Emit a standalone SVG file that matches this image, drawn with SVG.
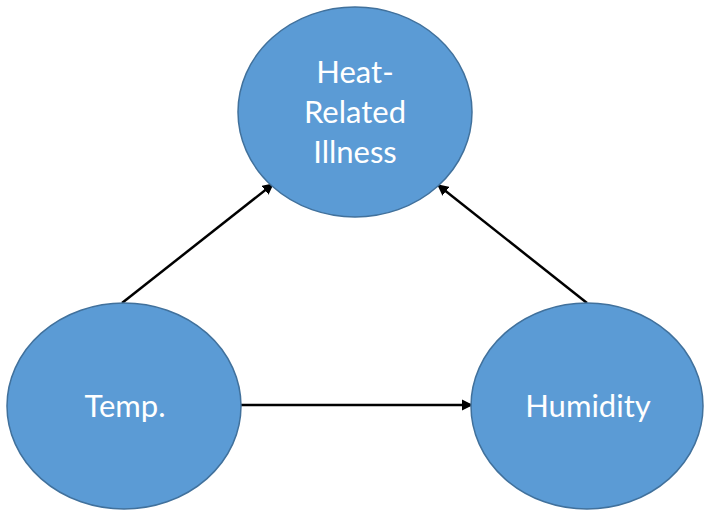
<svg xmlns="http://www.w3.org/2000/svg" width="709" height="522" viewBox="0 0 709 522">
<style>
.node{fill:#5B9BD5;stroke:#41719C;stroke-width:1.5}
.lbl{fill:#fff;font-family:Lato,"Open Sans",sans-serif;font-size:31px;text-anchor:middle}
.edge{stroke:#000;stroke-width:2.5;fill:none;marker-end:url(#ah)}
</style>
<defs>
<marker id="ah" viewBox="0 0 10 10" refX="9" refY="5" markerWidth="4.5" markerHeight="4.5" orient="auto" markerUnits="strokeWidth">
<path d="M0,0 L10,5 L0,10 z" fill="#000"/>
</marker>
</defs>
<rect width="709" height="522" fill="#fff"/>
<g id="connectors">
<line class="edge" x1="122" y1="303" x2="273" y2="184"/>
<line class="edge" x1="587" y1="303" x2="438" y2="185"/>
<line class="edge" x1="241" y1="405" x2="472" y2="405"/>
</g>
<g id="heat">
<ellipse class="node" cx="355" cy="112" rx="117" ry="105"/>
<text class="lbl" x="355" y="83">Heat-</text>
<text class="lbl" x="355" y="123">Related</text>
<text class="lbl" x="355" y="163">Illness</text>
</g>
<g id="temp">
<ellipse class="node" cx="124" cy="406" rx="117" ry="103"/>
<text class="lbl" x="125" y="417">Temp.</text>
</g>
<g id="humidity">
<ellipse class="node" cx="587" cy="406" rx="116" ry="103"/>
<text class="lbl" x="588" y="417">Humidity</text>
</g>
</svg>
